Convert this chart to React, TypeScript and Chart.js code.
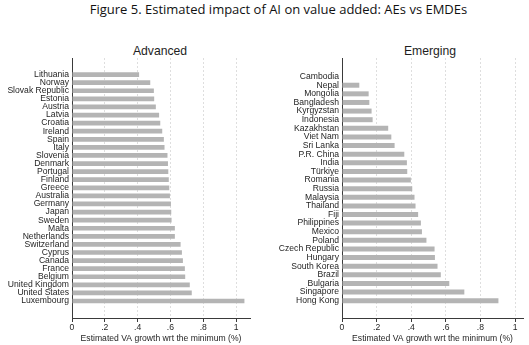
import React, { useEffect, useRef } from 'react';
import { Chart, registerables } from 'chart.js';

Chart.register(...registerables);

const advancedLabels = [
  'Lithuania', 'Norway', 'Slovak Republic', 'Estonia', 'Austria', 'Latvia', 'Croatia', 'Ireland',
  'Spain', 'Italy', 'Slovenia', 'Denmark', 'Portugal', 'Finland', 'Greece', 'Australia', 'Germany',
  'Japan', 'Sweden', 'Malta', 'Netherlands', 'Switzerland', 'Cyprus', 'Canada', 'France', 'Belgium',
  'United Kingdom', 'United States', 'Luxembourg',
];
const advancedValues = [
  0.409, 0.477, 0.499, 0.501, 0.511, 0.531, 0.538, 0.55, 0.56, 0.564, 0.582, 0.585, 0.587, 0.59,
  0.593, 0.597, 0.603, 0.605, 0.607, 0.627, 0.627, 0.662, 0.67, 0.676, 0.688, 0.69, 0.718, 0.73, 1.051,
];

const emergingLabels = [
  'Cambodia', 'Nepal', 'Mongolia', 'Bangladesh', 'Kyrgyzstan', 'Indonesia', 'Kazakhstan', 'Viet Nam',
  'Sri Lanka', 'P.R. China', 'India', 'Türkiye', 'Romania', 'Russia', 'Malaysia', 'Thailand', 'Fiji',
  'Philippines', 'Mexico', 'Poland', 'Czech Republic', 'Hungary', 'South Korea', 'Brazil', 'Bulgaria',
  'Singapore', 'Hong Kong',
];
const emergingValues = [
  0, 0.1, 0.154, 0.158, 0.171, 0.177, 0.267, 0.285, 0.304, 0.36, 0.375, 0.377, 0.398, 0.406, 0.419,
  0.425, 0.44, 0.456, 0.462, 0.488, 0.535, 0.537, 0.552, 0.571, 0.62, 0.707, 0.904,
];

const xTickValues = [0, 0.2, 0.4, 0.6, 0.8, 1];
const xTickLabels = ['0', '.2', '.4', '.6', '.8', '1'];

const mainTitle = 'Figure 5. Estimated impact of AI on value added: AEs vs EMDEs';
const xAxisTitle = 'Estimated VA growth wrt the minimum (%)';

const FONT = "'Liberation Sans', Arial, sans-serif";
const TEXT = '#1e1e1e';
const AXIS = '#3a3a3a';
const BAR = '#b4b4b4';
const GRID = '#dedede';

type PanelProps = {
  labels: string[];
  values: number[];
  xMax: number;
  yMin: number;
  yMax: number;
  yAxisWidth: number;
  padRight: number;
  left: number;
  width: number;
};

function Panel({ labels, values, xMax, yMin, yMax, yAxisWidth, padRight, left, width }: PanelProps) {
  const ref = useRef<HTMLCanvasElement | null>(null);
  useEffect(() => {
    if (!ref.current) return;
    const chart = new Chart(ref.current, {
      type: 'bar',
      data: {
        datasets: [
          {
            data: values.map((v, i) => ({ x: v, y: i })) as any,
            backgroundColor: BAR,
            borderWidth: 0,
            barPercentage: 0.58,
            categoryPercentage: 1,
          },
        ],
      },
      options: {
        indexAxis: 'y',
        animation: false,
        responsive: false,
        maintainAspectRatio: false,
        layout: { padding: { top: 58, right: padRight, left: 0, bottom: 0 } },
        plugins: {
          legend: { display: false },
          tooltip: { enabled: false },
          title: { display: false },
        },
        scales: {
          x: {
            type: 'linear',
            min: 0,
            max: xMax,
            afterBuildTicks: (s: any) => {
              s.ticks = xTickValues.map((v) => ({ value: v }));
            },
            afterFit: (s: any) => {
              s.height = 27;
            },
            ticks: {
              autoSkip: false,
              maxRotation: 0,
              padding: 0,
              color: TEXT,
              font: { family: FONT, size: 8.6 },
              callback: (_v: any, i: number) => xTickLabels[i],
            },
            grid: {
              color: (ctx: any) => (ctx.index === 0 ? 'rgba(0,0,0,0)' : GRID),
              tickColor: AXIS,
              tickLength: 4,
              drawTicks: true,
              lineWidth: 1,
            },
            border: { display: true, color: AXIS, width: 1, dash: [2, 2] },
            title: {
              display: true,
              text: xAxisTitle,
              color: TEXT,
              font: { family: FONT, size: 8.6 },
              padding: { top: 0, bottom: 1 },
            },
          },
          y: {
            type: 'linear',
            reverse: true,
            min: yMin,
            max: yMax,
            afterBuildTicks: (s: any) => {
              s.ticks = labels.map((_l, i) => ({ value: i }));
            },
            afterFit: (s: any) => {
              s.width = yAxisWidth;
            },
            ticks: {
              autoSkip: false,
              padding: 3,
              color: TEXT,
              font: { family: FONT, size: 8.6 },
              callback: (v: any) => labels[Math.round(Number(v))],
            },
            grid: { display: false, drawTicks: false },
            border: { display: true, color: AXIS, width: 1 },
          },
        },
      },
    });
    return () => chart.destroy();
  }, []);
  return (
    <canvas
      ref={ref}
      width={width}
      height={345}
      style={{ position: 'absolute', left, top: 0, width, height: 345 }}
    />
  );
}

export default function App() {
  return (
    <div
      style={{
        position: 'absolute',
        left: 0,
        top: 0,
        width: 529,
        height: 345,
        background: '#ffffff',
        overflow: 'hidden',
      }}
    >
      <div
        style={{
          position: 'absolute',
          left: 0,
          top: 3,
          width: 557,
          textAlign: 'center',
          fontFamily: "'Open Sans', sans-serif",
          fontSize: 13,
          lineHeight: '13px',
          color: '#111',
          whiteSpace: 'nowrap',
        }}
      >
        {mainTitle}
      </div>
      <div
        style={{
          position: 'absolute',
          left: 60,
          top: 45,
          width: 200,
          textAlign: 'center',
          fontFamily: FONT,
          fontSize: 12.2,
          lineHeight: '12px',
          color: TEXT,
        }}
      >
        Advanced
      </div>
      <div
        style={{
          position: 'absolute',
          left: 330,
          top: 45,
          width: 200,
          textAlign: 'center',
          fontFamily: FONT,
          fontSize: 12.2,
          lineHeight: '12px',
          color: TEXT,
        }}
      >
        Emerging
      </div>
      <Panel
        labels={advancedLabels}
        values={advancedValues}
        xMax={1.085}
        yMin={-1.5}
        yMax={29.55}
        yAxisWidth={72}
        padRight={15}
        left={0}
        width={265}
      />
      <Panel
        labels={emergingLabels}
        values={emergingValues}
        xMax={1.046}
        yMin={-1.6}
        yMax={27.45}
        yAxisWidth={77}
        padRight={6}
        left={265}
        width={264}
      />
    </div>
  );
}
